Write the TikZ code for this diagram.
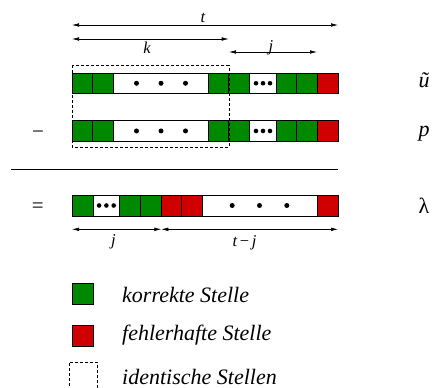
\documentclass[tikz,border=0pt]{standalone}
\usepackage{fontspec}
\setmainfont{Liberation Serif}
\usetikzlibrary{arrows.meta}
\definecolor{okgreen}{RGB}{0,136,0}
\definecolor{errred}{RGB}{208,0,0}
\newcommand\cellbox[6]{\node[cell,fill=#6,anchor=north west,minimum width={#3-#2},minimum height={#5-#4}] (#1) at (#2,#4) {};}
\begin{document}
\begin{tikzpicture}[x=1pt,y=-1pt,
  cell/.style={draw=black, line width=0.8pt, inner sep=0pt, outer sep=0pt},
  dimarrow/.style={{Latex[length=7pt,width=3.6pt]}-{Latex[length=7pt,width=3.6pt]}, line width=0.6pt},
  lbl/.style={font=\fontsize{16.5}{18}\selectfont\itshape, inner sep=0pt, anchor=base},
  big/.style={font=\fontsize{21}{24}\selectfont, inner sep=0pt, anchor=base},
  leg/.style={font=\fontsize{22}{25}\selectfont\itshape, inner sep=0pt, anchor=base west},
  bigdot/.style={circle, fill=black, inner sep=0pt, minimum size=5pt},
  smalldot/.style={circle, fill=black, inner sep=0pt, minimum size=4.6pt},
  ident/.style={draw=black, dash pattern=on 3pt off 2pt, line width=0.6pt}
]
\useasboundingbox (0,0) rectangle (432,388);

% row u~
\cellbox{u1}{72}{92.7}{73}{93.5}{okgreen}
\cellbox{u2}{92.7}{113.3}{73}{93.5}{okgreen}
\cellbox{u3}{113.3}{208.7}{73}{93.5}{white}
\cellbox{u4}{208.7}{228.7}{73}{93.5}{okgreen}
\cellbox{u5}{228.7}{249.3}{73}{93.5}{okgreen}
\cellbox{u6}{249.3}{276.7}{73}{93.5}{white}
\cellbox{u7}{276.7}{296.7}{73}{93.5}{okgreen}
\cellbox{u8}{296.7}{317.3}{73}{93.5}{okgreen}
\cellbox{u9}{317.3}{338}{73}{93.5}{errred}
% row p
\cellbox{p1}{72}{92.7}{120.7}{141.2}{okgreen}
\cellbox{p2}{92.7}{113.3}{120.7}{141.2}{okgreen}
\cellbox{p3}{113.3}{208.7}{120.7}{141.2}{white}
\cellbox{p4}{208.7}{228.7}{120.7}{141.2}{okgreen}
\cellbox{p5}{228.7}{249.3}{120.7}{141.2}{okgreen}
\cellbox{p6}{249.3}{276.7}{120.7}{141.2}{white}
\cellbox{p7}{276.7}{296.7}{120.7}{141.2}{okgreen}
\cellbox{p8}{296.7}{317.3}{120.7}{141.2}{okgreen}
\cellbox{p9}{317.3}{338}{120.7}{141.2}{errred}
% row lambda
\cellbox{l1}{72}{93.3}{195}{216}{okgreen}
\cellbox{l2}{93.3}{119.5}{195}{216}{white}
\cellbox{l3}{119.5}{140.7}{195}{216}{okgreen}
\cellbox{l4}{140.7}{161.3}{195}{216}{okgreen}
\cellbox{l5}{161.3}{181.3}{195}{216}{errred}
\cellbox{l6}{181.3}{202}{195}{216}{errred}
\cellbox{l7}{202}{317}{195}{216}{white}
\cellbox{l8}{317}{338}{195}{216}{errred}

% dots
\foreach \r in {u,p}{
  \node[bigdot] (\r d1) at ([xshift=-24.5pt]\r3.center) {};
  \node[bigdot] (\r d2) at (\r3.center) {};
  \node[bigdot] (\r d3) at ([xshift=24.5pt]\r3.center) {};
  \node[smalldot] (\r s1) at ([xshift=-7pt]\r6.center) {};
  \node[smalldot] (\r s2) at (\r6.center) {};
  \node[smalldot] (\r s3) at ([xshift=7pt]\r6.center) {};
}
\node[smalldot] (ls1) at ([xshift=-7.3pt]l2.center) {};
\node[smalldot] (ls2) at (l2.center) {};
\node[smalldot] (ls3) at ([xshift=7.3pt]l2.center) {};
\node[bigdot] (ld1) at ([xshift=-27.3pt]l7.center) {};
\node[bigdot] (ld2) at (l7.center) {};
\node[bigdot] (ld3) at ([xshift=27.3pt]l7.center) {};

% identical region
\draw[ident] (72,65.3) rectangle (229,147);

% dimension arrows
\coordinate (tL) at (72,25);
\coordinate (tR) at (338,25);
\coordinate (kL) at (72,39);
\coordinate (kR) at (228.7,39);
\coordinate (jL) at (229,52);
\coordinate (jR) at (317,52);
\coordinate (bL) at (72,229.3);
\coordinate (bM) at (161.3,229.3);
\coordinate (bR) at (338,229.3);
\draw[dimarrow] (tL) -- (tR);
\draw[dimarrow] (kL) -- (kR);
\draw[dimarrow] (jL) -- (jR);
\draw[dimarrow] (bL) -- (bM);
\draw[dimarrow] (bM) -- (bR);
\node[lbl] (tlab) at (203,22.5) {t};
\node[lbl] (klab) at (147,53.5) {k};
\node[lbl] (jlab) at (271,51) {j};
\node[lbl] (jblab) at (113.3,245.5) {j};
\node[lbl] (tjlab) at (244.5,246) {t\,\upshape −\,\itshape j};

% separator
\coordinate (sL) at (11,169);
\coordinate (sR) at (338,169);
\draw[line width=0.7pt] (sL) -- (sR);

% operators and row names
\node[big] (minus) at (38,138.5) {−};
\node[big] (equals) at (37.7,212) {=};
\node[big, font=\fontsize{22}{24}\selectfont\itshape] (uname) at (424,88) {ũ};
\node[big, font=\fontsize{22}{24}\selectfont\itshape] (pname) at (424,136) {p};
\node[big, font=\fontsize{22}{24}\selectfont] (lname) at (424,213) {λ};

% legend
\node[cell, fill=okgreen, anchor=north west, minimum width=21, minimum height=21] (legG) at (72,283) {};
\node[cell, fill=errred, anchor=north west, minimum width=21, minimum height=21] (legR) at (72,325) {};
\node[ident, anchor=north west, inner sep=0pt, minimum width=28, minimum height=28] (legI) at (68.5,362) {};
\node[leg] (tG) at (122,302.5) {korrekte Stelle};
\node[leg] (tR2) at (122,340.5) {fehlerhafte Stelle};
\node[leg] (tI) at (122,384) {identische Stellen};
\end{tikzpicture}
\end{document}
